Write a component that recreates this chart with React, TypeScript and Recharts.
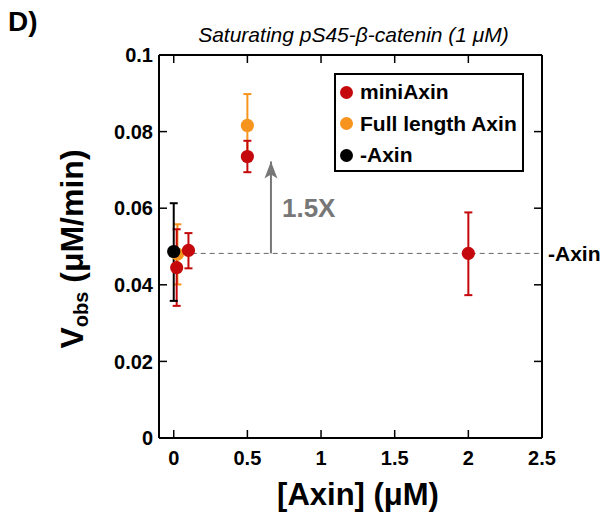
import React from 'react';
import {
  ScatterChart, Scatter, XAxis, YAxis, ErrorBar, ReferenceLine, ReferenceDot, Legend,
} from 'recharts';

const FONT = '"Liberation Sans", Arial, Helvetica, sans-serif';

// x ticks / y ticks
const xTicks = [0, 0.5, 1, 1.5, 2, 2.5];
const yTicks = [0, 0.02, 0.04, 0.06, 0.08, 0.1];

// miniAxin
const miniX = [0.02, 0.1, 0.5, 2];
const miniY = [0.0445, 0.049, 0.0735, 0.0482];
const miniLo = [0.0345, 0.0443, 0.0694, 0.0373];
const miniHi = [0.0545, 0.0535, 0.0776, 0.0589];

// Full length Axin
const fullX = [0.025, 0.5];
const fullY = [0.048, 0.0816];
const fullLo = [0.0401, 0.0734];
const fullHi = [0.0558, 0.0898];

// -Axin
const noX = [0];
const noY = [0.0487];
const noLo = [0.0358];
const noHi = [0.0613];

// baseline (-Axin level) and fold-change arrow
const baseline = 0.0482;
const baseFrom = 0;
const baseTo = 2.5;
const arrowX = 0.66;
const arrowTop = 0.0722;

const RED = '#c4080b';
const ORANGE = '#f7941d';
const BLACK = '#000000';

const build = (xs: number[], ys: number[], lo: number[], hi: number[]) =>
  xs.map((x, i) => ({ x, y: ys[i], err: [ys[i] - lo[i], hi[i] - ys[i]] }));

const miniData = build(miniX, miniY, miniLo, miniHi);
const fullData = build(fullX, fullY, fullLo, fullHi);
const noData = build(noX, noY, noLo, noHi);

const legendItems = [
  { name: 'miniAxin', color: RED },
  { name: 'Full length Axin', color: ORANGE },
  { name: '-Axin', color: BLACK },
];

const dot = (color: string) => (p: any) => (
  <circle cx={p.cx} cy={p.cy} r={6.6} fill={color} stroke="none" />
);

const arrowHead = (p: any) => (
  <path
    d={`M${p.cx},${p.cy} L${p.cx + 6.5},${p.cy + 17} L${p.cx},${p.cy + 13} L${p.cx - 6.5},${p.cy + 17} Z`}
    fill="#777777"
  />
);

const LegendBox = () => (
  <div
    style={{
      position: 'relative',
      width: 190,
      height: 99,
      boxSizing: 'border-box',
      border: '2px solid #000',
      background: '#fff',
      fontFamily: FONT,
      fontWeight: 'bold',
      fontSize: 21,
      color: '#000',
    }}
  >
    {legendItems.map((it, i) => (
      <div
        key={it.name}
        style={{
          position: 'absolute',
          left: 4,
          top: 4 + i * 31.5,
          height: 26,
          lineHeight: '26px',
          display: 'flex',
          alignItems: 'center',
          whiteSpace: 'nowrap',
        }}
      >
        <span
          style={{
            display: 'inline-block',
            width: 13,
            height: 13,
            borderRadius: '50%',
            background: it.color,
            marginRight: 7,
          }}
        />
        {it.name}
      </div>
    ))}
  </div>
);

const tickStyle = { fill: '#000', fontSize: 20, fontWeight: 'bold', fontFamily: FONT };
const axisLine = { stroke: '#000', strokeWidth: 2 };
const tickLine = { stroke: '#000', strokeWidth: 1.5 };
const noTick = () => <g />;

export default function App() {
  return (
    <div style={{ position: 'absolute', left: 0, top: 0, width: 602, height: 514, background: '#fff' }}>
      <ScatterChart
        width={602}
        height={514}
        margin={{ top: 50, right: 50, bottom: 46, left: 99 }}
      >
        <XAxis
          xAxisId="b"
          type="number"
          dataKey="x"
          domain={[-0.1, 2.5]}
          ticks={xTicks}
          interval={0}
          height={30}
          tickSize={-8}
          tickMargin={21}
          axisLine={axisLine}
          tickLine={tickLine}
          tick={tickStyle}
          allowDataOverflow
        />
        <XAxis
          xAxisId="t"
          orientation="top"
          type="number"
          dataKey="x"
          domain={[-0.1, 2.5]}
          ticks={xTicks}
          interval={0}
          height={5}
          tickSize={-8}
          axisLine={axisLine}
          tickLine={tickLine}
          tick={noTick}
          allowDataOverflow
        />
        <YAxis
          yAxisId="l"
          type="number"
          dataKey="y"
          domain={[0, 0.1]}
          ticks={yTicks}
          interval={0}
          width={60}
          tickSize={-8}
          tickMargin={14}
          axisLine={axisLine}
          tickLine={tickLine}
          tick={tickStyle}
          allowDataOverflow
        />
        <YAxis
          yAxisId="r"
          orientation="right"
          type="number"
          dataKey="y"
          domain={[0, 0.1]}
          ticks={yTicks}
          interval={0}
          width={10}
          tickSize={-8}
          axisLine={axisLine}
          tickLine={tickLine}
          tick={noTick}
          allowDataOverflow
        />
        <ReferenceLine
          xAxisId="b"
          yAxisId="l"
          segment={[{ x: baseFrom, y: baseline }, { x: baseTo, y: baseline }]}
          stroke="#666"
          strokeWidth={1}
          strokeDasharray="5 4"
          label={{ value: '-Axin', position: 'right', offset: 6, fill: '#000', fontSize: 21, fontWeight: 'bold', fontFamily: FONT }}
        />
        <ReferenceLine
          xAxisId="b"
          yAxisId="l"
          segment={[{ x: arrowX, y: baseline }, { x: arrowX, y: arrowTop }]}
          stroke="#777"
          strokeWidth={2}
          label={{ value: '1.5X', position: 'right', offset: 11, fill: '#777', fontSize: 26, fontWeight: 'bold', fontFamily: FONT }}
        />
        <ReferenceDot
          xAxisId="b"
          yAxisId="l"
          x={arrowX}
          y={arrowTop}
          shape={arrowHead}
        />
        <Scatter name="Full length Axin" xAxisId="b" yAxisId="l" data={fullData} fill={ORANGE} shape={dot(ORANGE)} isAnimationActive={false}>
          <ErrorBar dataKey="err" direction="y" width={4} strokeWidth={2} stroke={ORANGE} />
        </Scatter>
        <Scatter name="miniAxin" xAxisId="b" yAxisId="l" data={miniData} fill={RED} shape={dot(RED)} isAnimationActive={false}>
          <ErrorBar dataKey="err" direction="y" width={4} strokeWidth={2} stroke={RED} />
        </Scatter>
        <Scatter name="-Axin" xAxisId="b" yAxisId="l" data={noData} fill={BLACK} shape={dot(BLACK)} isAnimationActive={false}>
          <ErrorBar dataKey="err" direction="y" width={4} strokeWidth={2} stroke={BLACK} />
        </Scatter>
        <Legend
          layout="vertical"
          align="center"
          verticalAlign="middle"
          content={() => <LegendBox />}
          wrapperStyle={{ left: 334, top: 73, width: 190, height: 99 }}
        />
        <text x={8} y={31} fontFamily={FONT} fontWeight="bold" fontSize={28} fill="#000">D)</text>
        <text x={353.5} y={42} textAnchor="middle" fontFamily={FONT} fontStyle="italic" fontSize={21} fill="#000">
          Saturating pS45-β-catenin (1 μM)
        </text>
        <text x={358} y={505} textAnchor="middle" fontFamily={FONT} fontWeight="bold" fontSize={31} fill="#000">
          [Axin] (μM)
        </text>
        <text
          transform="translate(83,249) rotate(-90)"
          textAnchor="middle"
          fontFamily={FONT}
          fontWeight="bold"
          fontSize={32}
          fill="#000"
        >
          V<tspan fontSize={20} dy={5}>obs</tspan>
          <tspan dy={-5}> (μM/min)</tspan>
        </text>
      </ScatterChart>
    </div>
  );
}
